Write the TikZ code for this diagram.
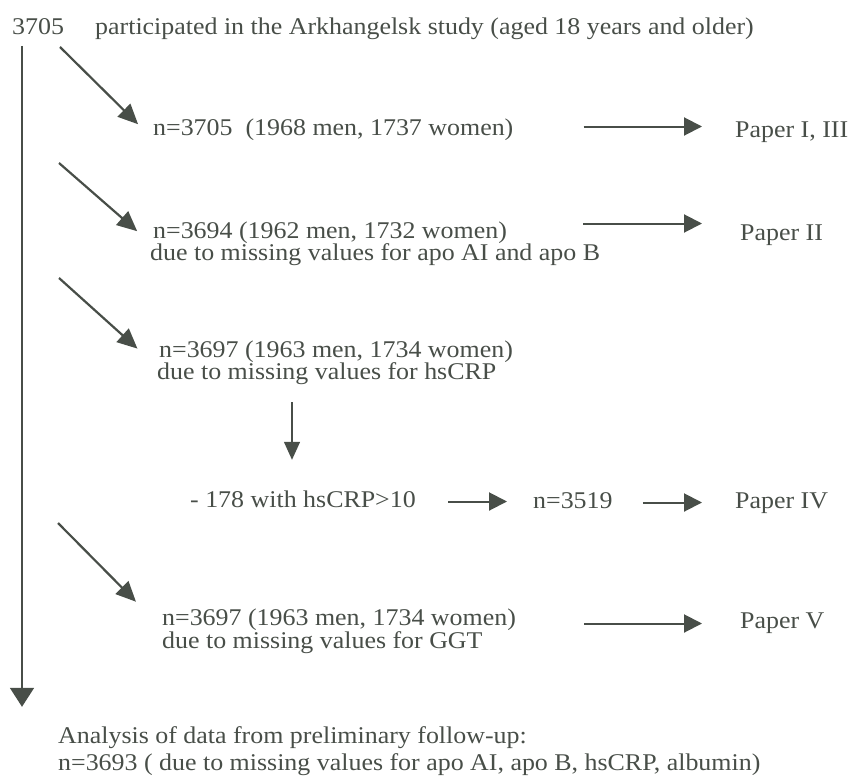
\documentclass[tikz,border=0pt]{standalone}
\usepackage{fontspec}
\setmainfont{Liberation Serif}[FakeStretch=1.08]
\usepackage{tikz}
\usetikzlibrary{arrows.meta,positioning}
\definecolor{ink}{RGB}{72,78,72}

\begin{document}
\begin{tikzpicture}[x=1pt,y=-1pt]
    \tikzset{txt/.style = {anchor=base west,inner sep=0pt,text=ink,
        font=\fontsize{24pt}{21pt}\selectfont,text height=15pt,text depth=4pt}}
    \tikzset{edge/.style = {-{Triangle[length=18pt,width=18pt]},draw=ink,line width=2pt}}
    \tikzset{diag/.style = {-{Triangle[length=20pt,width=18pt]},draw=ink,line width=2.2pt}}
    \useasboundingbox (0,0) rectangle (850,781);
    % texts
    \node[txt] (num)   at (12,35)  {3705};
    \node[txt] (title) at (95,35)  {participated in the Arkhangelsk study (aged 18 years and older)};
    \node[txt] (n1)    at (153,135) {n=3705\ \ (1968 men, 1737 women)};
    \node[txt] (p1)    at (735,137) {Paper I, III};
    \node[txt] (n2)    at (153,238) {n=3694 (1962 men, 1732 women)};
    \node[txt] (n2b)   at (150,260) {due to missing values for apo AI and apo B};
    \node[txt] (p2)    at (740,240) {Paper II};
    \node[txt] (n3)    at (159,357) {n=3697 (1963 men, 1734 women)};
    \node[txt] (n3b)   at (157,379) {due to missing values for hsCRP};
    \node[txt] (excl)  at (190,507) {- 178 with hsCRP>10};
    \node[txt] (n4)    at (533,508) {n=3519};
    \node[txt] (p4)    at (735,508) {Paper IV};
    \node[txt] (n5)    at (162,625) {n=3697 (1963 men, 1734 women)};
    \node[txt] (n5b)   at (162,648) {due to missing values for GGT};
    \node[txt] (p5)    at (740,628) {Paper V};
    \node[txt] (ana)   at (58,743)  {Analysis of data from preliminary follow-up:};
    \node[txt] (ana2)  at (58,770)  {n=3693 ( due to missing values for apo AI, apo B, hsCRP, albumin)};
    % free ends
    \coordinate (top) at (22,46);
    \coordinate (s1) at (60,47);
    \coordinate (s2) at (59,163);
    \coordinate (s3) at (59,278);
    \coordinate (s5) at (58,523);
    \coordinate (drop) at (292,402);
    % arrows
    \draw[-{Triangle[length=19pt,width=24pt]},draw=ink,line width=1.8pt,shorten >=21pt] (top) -- (top |- ana.north);
    \draw[diag,shorten >=21pt] (s1) -- ([yshift=-4pt]n1.base west);
    \draw[diag,shorten >=21pt] (s2) -- ([yshift=-7pt]n2.base west);
    \draw[diag,shorten >=29pt] (s3) -- ([yshift=-11pt]n3.base west);
    \draw[diag,shorten >=37pt] (s5) -- ([yshift=-3pt]n5.base west);
    \draw[edge,shorten <=70pt,shorten >=33pt] ([yshift=3pt]n1.east) -- ([yshift=3pt]n1.east -| p1.west);
    \draw[edge,shorten <=76pt,shorten >=38pt] ([yshift=9pt]n2.east) -- ([yshift=9pt]n2.east -| p2.west);
    \draw[edge,shorten <=68pt,shorten >=38pt] ([yshift=-4pt]n5.east) -- ([yshift=-4pt]n5.east -| p5.west);
    \draw[edge,shorten <=32pt,shorten >=26pt] (excl.east) -- (excl.east -| n4.west);
    \draw[edge,shorten <=30pt,shorten >=33pt] (n4.east) -- (n4.east -| p4.west);
    \draw[-{Triangle[length=18pt,width=16pt]},draw=ink,line width=1.4pt,shorten >=32pt] (drop) -- (drop |- excl.north);
\end{tikzpicture}
\end{document}
